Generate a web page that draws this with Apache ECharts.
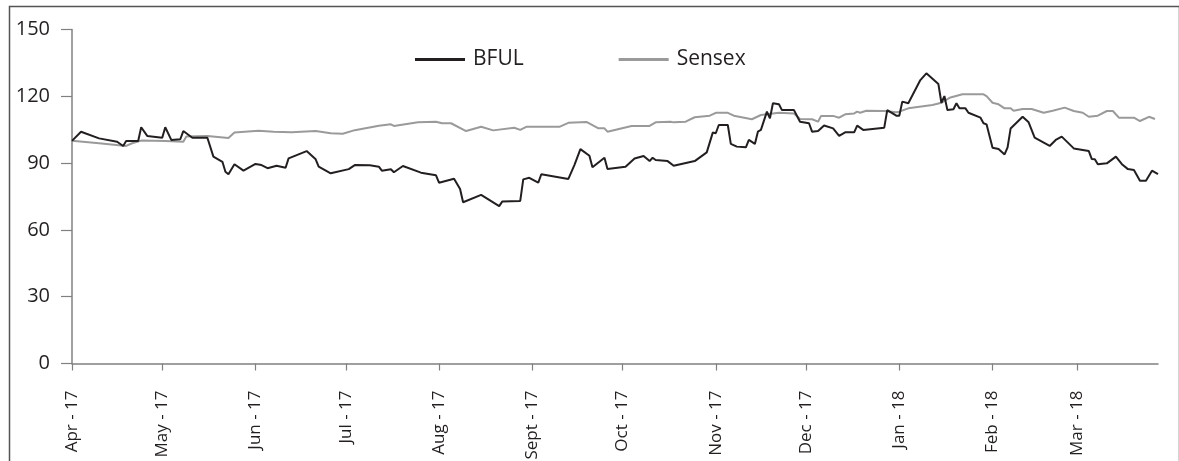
<!DOCTYPE html>
<html>
<head>
<meta charset="utf-8">
<script src="https://cdn.jsdelivr.net/npm/echarts@6/dist/echarts.min.js"></script>
<style>
html,body{margin:0;padding:0;background:#fff;}
#chart{width:1179px;height:461px;}
</style>
</head>
<body>
<div id="chart"></div>
<script>
// Tick labels (month starts)
const monthTicks = ["2017-04-01","2017-05-01","2017-06-01","2017-07-01","2017-08-01","2017-09-01","2017-10-01","2017-11-01","2017-12-01","2018-01-01","2018-02-01","2018-03-01"];
const monthLabels = ["Apr - 17","May - 17","Jun - 17","Jul - 17","Aug - 17","Sept - 17","Oct - 17","Nov - 17","Dec - 17","Jan - 18","Feb - 18","Mar - 18"];
const yTicks = [0, 30, 60, 90, 120, 150];

// BFUL series
const bfulDates = ["2017-04-01","2017-04-04","2017-04-10","2017-04-16","2017-04-18","2017-04-19","2017-04-23","2017-04-24","2017-04-26","2017-05-01",
"2017-05-02","2017-05-04","2017-05-07","2017-05-08","2017-05-11","2017-05-16","2017-05-18","2017-05-21","2017-05-22","2017-05-23",
"2017-05-25","2017-05-28","2017-06-01","2017-06-03","2017-06-05","2017-06-08","2017-06-11","2017-06-12","2017-06-18","2017-06-21",
"2017-06-22","2017-06-26","2017-07-02","2017-07-04","2017-07-09","2017-07-12","2017-07-13","2017-07-16","2017-07-17","2017-07-20",
"2017-07-26","2017-07-31","2017-08-01","2017-08-06","2017-08-08","2017-08-09","2017-08-15","2017-08-21","2017-08-22","2017-08-28",
"2017-08-29","2017-08-31","2017-09-03","2017-09-04","2017-09-13","2017-09-15","2017-09-17","2017-09-20","2017-09-21","2017-09-25",
"2017-09-26","2017-10-02","2017-10-05","2017-10-08","2017-10-10","2017-10-11","2017-10-12","2017-10-16","2017-10-18","2017-10-25",
"2017-10-29","2017-10-31","2017-11-01","2017-11-02","2017-11-05","2017-11-06","2017-11-08","2017-11-11","2017-11-12","2017-11-14",
"2017-11-15","2017-11-16","2017-11-18","2017-11-19","2017-11-20","2017-11-22","2017-11-23","2017-11-27","2017-11-29","2017-12-02",
"2017-12-03","2017-12-05","2017-12-07","2017-12-10","2017-12-12","2017-12-14","2017-12-17","2017-12-18","2017-12-20","2017-12-27",
"2017-12-28","2017-12-31","2018-01-01","2018-01-02","2018-01-04","2018-01-08","2018-01-10","2018-01-14","2018-01-15","2018-01-16",
"2018-01-17","2018-01-19","2018-01-20","2018-01-21","2018-01-23","2018-01-24","2018-01-28","2018-01-29","2018-01-30","2018-02-01",
"2018-02-03","2018-02-05","2018-02-06","2018-02-07","2018-02-11","2018-02-13","2018-02-15","2018-02-20","2018-02-22","2018-02-24",
"2018-02-28","2018-03-05","2018-03-06","2018-03-07","2018-03-08","2018-03-11","2018-03-14","2018-03-16","2018-03-18","2018-03-20",
"2018-03-22","2018-03-24","2018-03-26","2018-03-28"];
const bfulValues = [100.0,104.1,101.1,99.6,97.7,99.9,99.9,106.1,102.2,101.4,
106.1,100.4,100.7,104.4,101.4,101.4,92.9,90.6,86.1,85.0,
89.5,86.6,89.6,89.1,87.7,88.8,87.9,92.1,95.4,91.7,
88.4,85.4,87.3,89.1,89.0,88.4,86.6,87.2,85.9,88.7,
85.7,84.5,81.2,83.0,78.4,72.4,75.7,70.7,72.7,73.0,
82.7,83.4,81.2,85.0,82.9,89.1,96.3,93.3,88.1,92.4,
87.4,88.4,92.1,93.2,90.9,92.4,91.4,90.9,88.8,90.9,
94.8,103.7,103.4,107.1,107.1,98.6,97.4,97.1,100.4,98.6,
104.1,104.9,113.1,110.1,116.9,116.4,113.8,113.8,108.6,107.9,
104.1,104.4,106.9,105.6,102.2,103.8,103.8,106.8,104.9,105.9,
113.8,111.3,111.3,117.6,116.9,127.3,130.3,125.5,117.1,120.1,
113.8,114.2,116.9,114.6,114.6,112.6,110.4,107.9,107.4,96.9,
96.3,93.9,97.1,105.5,110.8,108.3,101.4,97.7,100.4,101.9,
96.6,95.4,91.8,91.7,89.5,89.9,92.9,89.5,87.3,86.9,
82.1,82.1,86.6,85.1];

// Sensex series
const sensexDates = ["2017-04-01","2017-04-10","2017-04-19","2017-04-21","2017-04-24","2017-05-02","2017-05-08","2017-05-09","2017-05-16","2017-05-23",
"2017-05-25","2017-06-02","2017-06-07","2017-06-13","2017-06-21","2017-06-26","2017-06-30","2017-07-04","2017-07-12","2017-07-16",
"2017-07-17","2017-07-25","2017-07-31","2017-08-02","2017-08-05","2017-08-10","2017-08-15","2017-08-19","2017-08-26","2017-08-28",
"2017-08-30","2017-09-10","2017-09-13","2017-09-19","2017-09-23","2017-09-25","2017-09-26","2017-10-04","2017-10-10","2017-10-12",
"2017-10-17","2017-10-18","2017-10-22","2017-10-25","2017-10-30","2017-11-01","2017-11-05","2017-11-07","2017-11-13","2017-11-16",
"2017-11-22","2017-11-27","2017-11-29","2017-12-03","2017-12-05","2017-12-06","2017-12-10","2017-12-12","2017-12-14","2017-12-17",
"2017-12-18","2017-12-19","2017-12-21","2017-12-27","2017-12-31","2018-01-01","2018-01-04","2018-01-12","2018-01-15","2018-01-18",
"2018-01-22","2018-01-29","2018-01-30","2018-02-01","2018-02-03","2018-02-05","2018-02-07","2018-02-08","2018-02-11","2018-02-14",
"2018-02-18","2018-02-21","2018-02-25","2018-02-28","2018-03-03","2018-03-05","2018-03-08","2018-03-11","2018-03-13","2018-03-15",
"2018-03-20","2018-03-22","2018-03-25","2018-03-27"];
const sensexValues = [100.0,98.9,97.7,98.9,100.1,99.9,99.6,101.9,102.2,101.3,
103.7,104.5,104.1,103.8,104.4,103.4,103.2,104.8,106.8,107.4,
106.7,108.3,108.6,107.9,107.9,104.4,106.3,104.7,105.9,104.9,
106.3,106.3,108.1,108.5,105.6,105.6,104.1,106.7,106.7,108.3,
108.6,108.3,108.6,110.6,111.3,112.6,112.6,111.3,109.7,111.6,
112.6,112.3,109.8,109.7,108.6,111.2,111.2,110.4,111.9,112.3,
113.1,112.6,113.5,113.4,112.8,113.1,114.6,116.1,117.1,119.5,
120.9,120.9,120.1,117.1,116.4,114.6,114.6,113.5,114.3,114.3,
112.6,113.5,114.9,113.4,112.6,110.8,111.3,113.4,113.4,110.4,
110.4,108.9,110.8,109.8];

function ts(s){ const p = s.split('-'); return Date.UTC(+p[0], +p[1]-1, +p[2]); }
const tickTs = monthTicks.map(ts);
const xMin = ts("2017-04-01");
const xMax = ts("2018-03-28");

const FONT = "'Open Sans', 'Noto Sans', sans-serif";
const chart = echarts.init(document.getElementById('chart'), null, {renderer: 'canvas'});
chart.setOption({
  animation: false,
  backgroundColor: '#ffffff',
  grid: {left: 72, right: 21, top: 29.5, bottom: 97.5, containLabel: false, outerBoundsMode: 'none'},
  legend: {
    left: 410, top: 44,
    icon: 'rect',
    itemWidth: 50, itemHeight: 3, itemGap: 95,
    textStyle: {fontFamily: FONT, fontSize: 21, color: '#231f20', padding: [0,0,0,3]},
    data: ['BFUL', 'Sensex']
  },
  xAxis: {
    type: 'value',
    min: xMin, max: xMax,
    splitLine: {show: false},
    axisLine: {show: true, onZero: false, lineStyle: {color: '#808080', width: 1.5}},
    axisTick: {show: true, customValues: tickTs, length: 7, lineStyle: {color: '#808080', width: 1.2}},
    axisLabel: {
      show: true, customValues: tickTs, rotate: 90, margin: 27,
      fontFamily: FONT, fontSize: 17, color: '#231f20',
      formatter: function(v){ const i = tickTs.indexOf(v); return i >= 0 ? monthLabels[i] : ''; }
    }
  },
  yAxis: {
    type: 'value', min: 0, max: 150, interval: 30,
    splitLine: {show: false},
    axisLine: {show: true, lineStyle: {color: '#808080', width: 1.5}},
    axisTick: {show: true, length: 11, lineStyle: {color: '#808080', width: 1.2}},
    axisLabel: {margin: 22, fontFamily: FONT, fontSize: 20, color: '#231f20',
      customValues: yTicks}
  },
  series: [
    {
      name: 'BFUL', type: 'line', symbol: 'none', smooth: false,
      lineStyle: {color: '#231f20', width: 2},
      itemStyle: {color: '#231f20'},
      data: bfulDates.map((d, i) => [ts(d), bfulValues[i]]),
      z: 3
    },
    {
      name: 'Sensex', type: 'line', symbol: 'none', smooth: false,
      lineStyle: {color: '#9a9a9a', width: 2},
      itemStyle: {color: '#9a9a9a'},
      data: sensexDates.map((d, i) => [ts(d), sensexValues[i]]),
      z: 2
    }
  ],
  graphic: [
    {type: 'rect', left: 7, top: 4, silent: true, z: 10,
     shape: {x: 0, y: 0, width: 1170, height: 480},
     style: {fill: null, stroke: '#555555', lineWidth: 1.5}}
  ]
});
</script>
</body>
</html>
